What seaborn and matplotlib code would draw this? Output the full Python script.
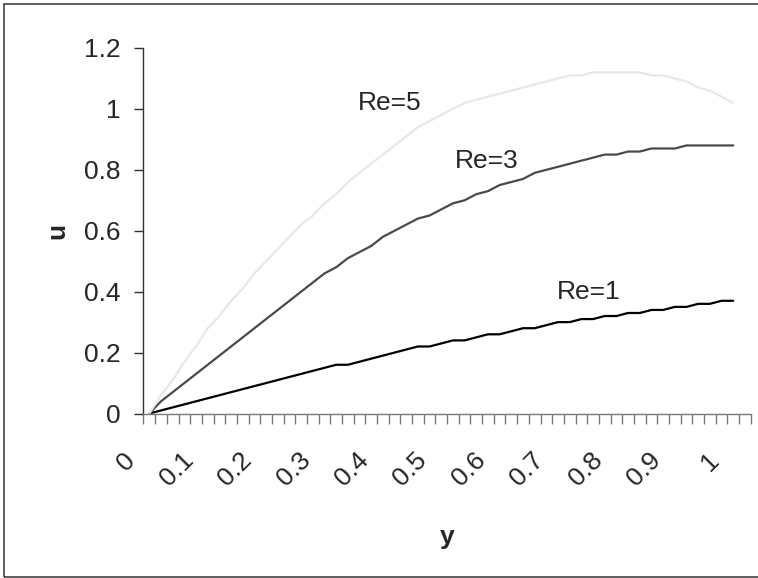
import matplotlib
matplotlib.use("Agg")
import matplotlib.pyplot as plt
import matplotlib.transforms as mtransforms
from matplotlib.patches import Rectangle
import numpy as np
import pandas as pd
import seaborn as sns

# category axis of the original spreadsheet chart: y from 0 to 1 in steps of 0.02
y_pos = np.round(np.arange(51) * 0.02, 2)

# velocity u, one list per Reynolds number
u_re1 = [0.00, 0.01, 0.02, 0.03, 0.04, 0.05, 0.06, 0.07, 0.08, 0.09,
         0.10, 0.11, 0.12, 0.13, 0.14, 0.15, 0.16, 0.16, 0.17, 0.18,
         0.19, 0.20, 0.21, 0.22, 0.22, 0.23, 0.24, 0.24, 0.25, 0.26,
         0.26, 0.27, 0.28, 0.28, 0.29, 0.30, 0.30, 0.31, 0.31, 0.32,
         0.32, 0.33, 0.33, 0.34, 0.34, 0.35, 0.35, 0.36, 0.36, 0.37,
         0.37]
u_re3 = [0.00, 0.04, 0.07, 0.10, 0.13, 0.16, 0.19, 0.22, 0.25, 0.28,
         0.31, 0.34, 0.37, 0.40, 0.43, 0.46, 0.48, 0.51, 0.53, 0.55,
         0.58, 0.60, 0.62, 0.64, 0.65, 0.67, 0.69, 0.70, 0.72, 0.73,
         0.75, 0.76, 0.77, 0.79, 0.80, 0.81, 0.82, 0.83, 0.84, 0.85,
         0.85, 0.86, 0.86, 0.87, 0.87, 0.87, 0.88, 0.88, 0.88, 0.88,
         0.88]
u_re5 = [0.00, 0.06, 0.11, 0.17, 0.22, 0.28, 0.32, 0.37, 0.41, 0.46,
         0.50, 0.54, 0.58, 0.62, 0.65, 0.69, 0.72, 0.76, 0.79, 0.82,
         0.85, 0.88, 0.91, 0.94, 0.96, 0.98, 1.00, 1.02, 1.03, 1.04,
         1.05, 1.06, 1.07, 1.08, 1.09, 1.10, 1.11, 1.11, 1.12, 1.12,
         1.12, 1.12, 1.12, 1.11, 1.11, 1.10, 1.09, 1.07, 1.06, 1.04,
         1.02]

series_names = ["Re=1", "Re=3", "Re=5"]
line_colors = ["#000000", "#4a4a4a", "#e8e8e8"]
y_labels = ["0", "0.1", "0.2", "0.3", "0.4", "0.5", "0.6", "0.7", "0.8", "0.9", "1"]

df = pd.DataFrame({
    "y": np.concatenate([y_pos] * 3),
    "u": np.concatenate([u_re1, u_re3, u_re5]),
    "series": np.repeat(series_names, len(y_pos)),
})

sns.set_theme(style="white")
plt.rcParams["font.family"] = ["Liberation Sans", "DejaVu Sans"]
fs = 19

fig = plt.figure(figsize=(7.58, 5.78), dpi=100)
ax = fig.add_axes([0.1893, 0.2846, 0.8011, 0.6324])

sns.lineplot(data=df, x="y", y="u", hue="series", palette=line_colors,
             hue_order=series_names, linewidth=1.6, legend=False, ax=ax)

ax.set_xlim(-0.01, 1.03)
ax.set_ylim(0, 1.2)

# y axis
ax.set_yticks(np.arange(0, 1.21, 0.2))
ax.set_yticklabels(["0", "0.2", "0.4", "0.6", "0.8", "1", "1.2"], fontsize=fs)
ax.tick_params(axis="y", direction="out", length=6.5, width=1, color="#303030",
               pad=10, left=True)

# x axis: labels every 0.1, tick marks between categories
ax.set_xticks(np.round(np.arange(0, 1.01, 0.1), 2))
ax.set_xticks(np.arange(-0.01, 1.04, 0.02), minor=True)
ax.tick_params(axis="x", which="major", length=0, pad=31, bottom=True)
ax.tick_params(axis="x", which="minor", direction="out", length=7, width=1,
               color="#7a7a7a", bottom=True)
ax.set_xticklabels(y_labels, fontsize=fs, rotation=45, ha="right", va="center",
                   rotation_mode="anchor")
shift = mtransforms.ScaledTranslation(-18 / 100, 0, fig.dpi_scale_trans)
for lab in ax.get_xticklabels():
    lab.set_transform(lab.get_transform() + shift)

for side in ["top", "right"]:
    ax.spines[side].set_visible(False)
ax.spines["left"].set_color("#303030")
ax.spines["bottom"].set_color("#7a7a7a")
ax.spines["left"].set_linewidth(1)
ax.spines["bottom"].set_linewidth(1)

ax.set_xlabel("y", fontsize=fs, fontweight="bold")
ax.set_ylabel("u", fontsize=fs, fontweight="bold")
ax.xaxis.set_label_coords(0.5, -0.338)
ax.yaxis.set_label_coords(-0.1425, 0.5)
ax.xaxis.label.set_va("center")
ax.yaxis.label.set_va("center")

# curve labels
ax.text(0.411, 1.019, "Re=5", fontsize=fs, ha="center", va="center")
ax.text(0.577, 0.829, "Re=3", fontsize=fs, ha="center", va="center")
ax.text(0.753, 0.399, "Re=1", fontsize=fs, ha="center", va="center")

# chart frame (cut off on the right like the original)
fig.patches.append(Rectangle((3.5, 0.8), 900, 573.5, transform=None,
                             fill=False, edgecolor="#333333", linewidth=1.1))

fig.savefig("out.png", dpi=100)
